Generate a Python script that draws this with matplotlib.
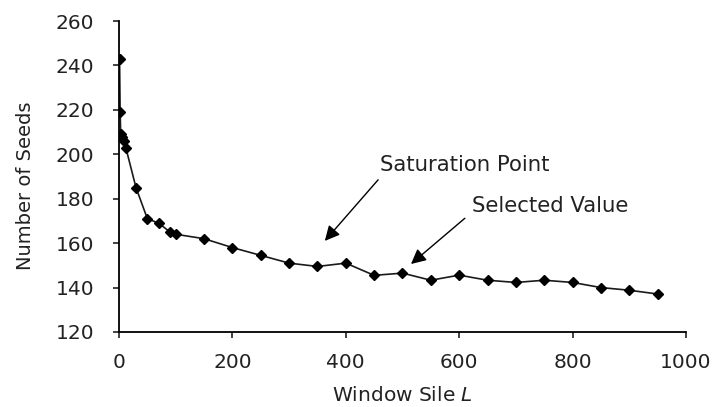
import matplotlib.pyplot as plt

plt.rcParams['font.family'] = ['DejaVu Sans']

# window size vs. number of seeds
window_size = [1, 2, 3, 5, 8, 12, 30, 50, 70, 90, 100, 150, 200, 250, 300,
               350, 400, 450, 500, 550, 600, 650, 700, 750, 800, 850, 900, 950]
num_seeds = [243, 219, 209, 208, 206, 203, 185, 171, 169, 165, 164, 162, 158,
             154.5, 151, 149.5, 151, 145.5, 146.5, 143.3, 145.6, 143.3, 142.3,
             143.3, 142.3, 140, 138.8, 137.1]

x_ticks = [0, 200, 400, 600, 800, 1000]
y_ticks = [120, 140, 160, 180, 200, 220, 240, 260]

txt_col = '#222222'

fig = plt.figure(figsize=(7.13, 4.07), dpi=100)
ax = fig.add_axes([0.1669, 0.1843, 0.7952, 0.7641])

ax.plot(window_size, num_seeds, color='#1a1a1a', lw=1.2, marker='D',
        markersize=5.5, markerfacecolor='black', markeredgecolor='black')

ax.set_xlim(0, 1000)
ax.set_ylim(120, 260)
ax.set_xticks(x_ticks)
ax.set_yticks(y_ticks)
ax.tick_params(direction='out', length=4, width=1.2, labelsize=14.5,
               colors=txt_col)
ax.tick_params(axis='y', pad=14)
ax.tick_params(axis='x', pad=11)
for s in ['top', 'right']:
    ax.spines[s].set_visible(False)
for s in ['left', 'bottom']:
    ax.spines[s].set_linewidth(1.3)

ax.set_xlabel('Window Sile $\\it{L}$', fontsize=14.5, labelpad=10, color=txt_col)
ax.set_ylabel('Number of Seeds', fontsize=14, labelpad=15, color=txt_col, y=0.47)

arrow = dict(arrowstyle='-|>,head_length=0.9,head_width=0.45', color='black',
             lw=1.0, shrinkA=0, shrinkB=0)
ax.text(460, 195, 'Saturation Point', fontsize=15.3, va='center', ha='left',
        color=txt_col)
ax.annotate('', xy=(363, 161), xytext=(457, 188.5), arrowprops=arrow)
ax.text(622, 176.5, 'Selected Value', fontsize=15.3, va='center', ha='left',
        color=txt_col)
ax.annotate('', xy=(515, 150.6), xytext=(610, 171.2), arrowprops=arrow)

fig.savefig('out.png', dpi=100)
